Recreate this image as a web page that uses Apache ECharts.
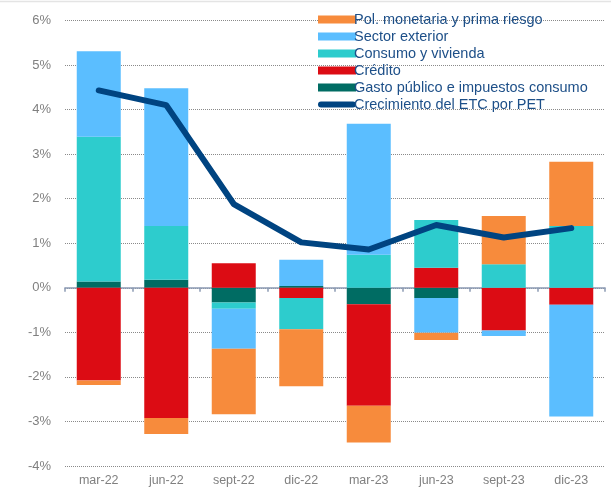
<!DOCTYPE html>
<html lang="es">
  <head>
    <meta charset="utf-8" />
    <title>Crecimiento del ETC por PET</title>
    <style>
      html, body { margin: 0; padding: 0; background: #fff; }
      #chart-container { width: 611px; height: 490px; }
    </style>
  </head>
  <body>
    <div id="chart-container"></div>
    <script src="https://cdn.jsdelivr.net/npm/echarts@6/dist/echarts.min.js"></script>
    <script>
      // categorias y contribuciones (pp)
      var categories = ["mar-22", "jun-22", "sept-22", "dic-22", "mar-23", "jun-23", "sept-23", "dic-23"];
      var gasto = [0.14, 0.18, -0.33, 0.04, -0.37, -0.23, 0, 0];
      var credito = [-2.08, -2.92, 0.55, -0.23, -2.28, 0.45, -0.96, -0.38];
      var consumo = [3.25, 1.21, -0.14, -0.70, 0.74, 1.07, 0.53, 1.39];
      var sector = [1.92, 3.09, -0.90, 0.59, 2.94, -0.78, -0.12, -2.51];
      var polMonetaria = [-0.10, -0.36, -1.47, -1.28, -0.82, -0.16, 1.08, 1.44];
      var crecimiento = [4.43, 4.10, 1.88, 1.02, 0.86, 1.41, 1.13, 1.34];

      var dom = document.getElementById("chart-container");
      var myChart = echarts.init(dom, null, { renderer: "canvas" });

      function barSeries(name, data, color) {
        return {
          name: name,
          type: "bar",
          stack: "total",
          xAxisIndex: 0,
          barWidth: 44,
          data: data,
          itemStyle: { color: color }
        };
      }

      var option = {
        animation: false,
        textStyle: { fontFamily: "Liberation Sans, Arial, sans-serif" },
        graphic: [
          {
            type: "line",
            shape: { x1: 0, y1: 1.5, x2: 611, y2: 1.5 },
            style: { stroke: "#e4e4e4", lineWidth: 1.5 }
          }
        ],
        legend: {
          orient: "vertical",
          left: 313,
          top: 7,
          itemWidth: 38,
          itemHeight: 8,
          itemGap: 2,
          textStyle: { color: "#1d4f88", fontSize: 14.5, lineHeight: 13, padding: [0, 0, 0, -7] },
          data: [
            { name: "Pol. monetaria y prima riesgo", icon: "rect" },
            { name: "Sector exterior", icon: "rect" },
            { name: "Consumo y vivienda", icon: "rect" },
            { name: "Crédito", icon: "rect" },
            { name: "Gasto público e impuestos consumo", icon: "rect" },
            {
              name: "Crecimiento del ETC por PET",
              icon: "path://M3,0 L35,0 A3,3 0 0 1 35,6 L3,6 A3,3 0 0 1 3,0 Z",
              itemStyle: { color: "#004481" }
            }
          ]
        },
        grid: { left: 65, right: 6, top: 20.5, bottom: 24 },
        xAxis: [
          {
            type: "category",
            data: categories,
            position: "bottom",
            axisLine: { onZero: false, show: false },
            axisTick: { show: false },
            axisLabel: { color: "#808080", fontSize: 12.5, margin: 8 }
          },
          {
            type: "category",
            data: categories,
            position: "bottom",
            axisLine: { onZero: true, lineStyle: { color: "#8c9ab4", width: 1.5 } },
            axisTick: { show: true, length: 4, lineStyle: { color: "#8c9ab4", width: 1.5 } },
            axisLabel: { show: false }
          }
        ],
        yAxis: {
          type: "value",
          min: -4,
          max: 6,
          interval: 1,
          axisLine: { show: false },
          axisTick: { show: false },
          axisLabel: {
            color: "#808080",
            fontSize: 13,
            margin: 14,
            formatter: function (v) { return v + "%"; }
          },
          splitLine: { lineStyle: { type: "dotted", color: "#8a8a8a", width: 1 } }
        },
        series: [
          barSeries("Gasto público e impuestos consumo", gasto, "#006c63"),
          barSeries("Crédito", credito, "#dc0c14"),
          barSeries("Consumo y vivienda", consumo, "#2dcccd"),
          barSeries("Sector exterior", sector, "#5bbeff"),
          barSeries("Pol. monetaria y prima riesgo", polMonetaria, "#f78b3c"),
          {
            name: "Crecimiento del ETC por PET",
            type: "line",
            xAxisIndex: 0,
            data: crecimiento,
            symbol: "none",
            lineStyle: { color: "#004481", width: 6, cap: "round", join: "round" },
            itemStyle: { color: "#004481" },
            z: 5
          }
        ]
      };

      myChart.setOption(option);
      window.addEventListener("resize", myChart.resize);
    </script>
  </body>
</html>
